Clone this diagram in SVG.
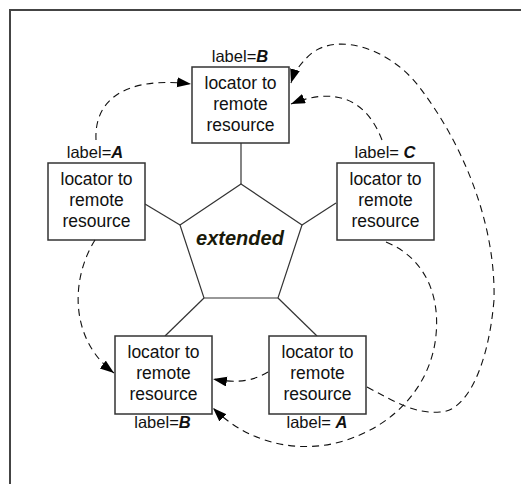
<svg xmlns="http://www.w3.org/2000/svg" width="521" height="484" viewBox="0 0 521 484">
<style>
.frame{fill:none;stroke:#444;stroke-width:2}
.box{fill:#fff;stroke:#333;stroke-width:1.5}
.spoke{fill:none;stroke:#333;stroke-width:1.2}
.t{font-family:"Liberation Sans",Arial,sans-serif;font-size:17.5px;fill:#111;text-anchor:middle}
.lbl{font-family:"Liberation Sans",Arial,sans-serif;font-size:16.5px;fill:#111;text-anchor:middle}
.bi{font-weight:bold;font-style:italic}
.ext{font-family:"Liberation Sans",Arial,sans-serif;font-size:20px;font-weight:bold;font-style:italic;fill:#1a1a0a;text-anchor:middle}
.dash{fill:none;stroke:#111;stroke-width:1.1;stroke-dasharray:7 5;marker-end:url(#ah)}
</style>
<defs>
<marker id="ah" markerUnits="userSpaceOnUse" markerWidth="15" markerHeight="11" refX="14" refY="5" orient="auto">
<path d="M0,0 L14,5 L0,10 Z" fill="#000"/>
</marker>
</defs>
<rect class="frame" x="10" y="10" width="600" height="600"/>

<g id="center">
<polygon class="spoke" points="241,184 302,225 278,298 204,298 180,225"/>
<text class="ext" x="240" y="245">extended</text>
</g>

<g id="spokes">
<line class="spoke" x1="241" y1="143" x2="241" y2="184"/>
<line class="spoke" x1="145" y1="204" x2="180" y2="225"/>
<line class="spoke" x1="336" y1="203" x2="302" y2="225"/>
<line class="spoke" x1="204" y1="298" x2="165" y2="336"/>
<line class="spoke" x1="278" y1="298" x2="317" y2="336"/>
</g>

<g id="node-top">
<rect class="box" x="192" y="67" width="97" height="76"/>
<text class="t" x="240.5" y="89">locator to</text>
<text class="t" x="240.5" y="110">remote</text>
<text class="t" x="240.5" y="131">resource</text>
<text class="lbl" x="240" y="62">label=<tspan class="bi">B</tspan></text>
</g>

<g id="node-left">
<rect class="box" x="48" y="163" width="97" height="77"/>
<text class="t" x="96.5" y="185">locator to</text>
<text class="t" x="96.5" y="206">remote</text>
<text class="t" x="96.5" y="227">resource</text>
<text class="lbl" x="95" y="158">label=<tspan class="bi">A</tspan></text>
</g>

<g id="node-right">
<rect class="box" x="337" y="163" width="97" height="77"/>
<text class="t" x="385.5" y="185">locator to</text>
<text class="t" x="385.5" y="206">remote</text>
<text class="t" x="385.5" y="227">resource</text>
<text class="lbl" x="385" y="158">label= <tspan class="bi">C</tspan></text>
</g>

<g id="node-bottom-left">
<rect class="box" x="115" y="336" width="97" height="78"/>
<text class="t" x="163.5" y="358">locator to</text>
<text class="t" x="163.5" y="379">remote</text>
<text class="t" x="163.5" y="400">resource</text>
<text class="lbl" x="162.5" y="428">label=<tspan class="bi">B</tspan></text>
</g>

<g id="node-bottom-right">
<rect class="box" x="269" y="336" width="97" height="78"/>
<text class="t" x="317.5" y="358">locator to</text>
<text class="t" x="317.5" y="379">remote</text>
<text class="t" x="317.5" y="400">resource</text>
<text class="lbl" x="317" y="428">label= <tspan class="bi">A</tspan></text>
</g>

<g id="connectors">
<path class="dash" d="M96,140 C94,100 125,76 191,84"/>
<path class="dash" d="M382,140 C365,95 330,88 291,104"/>
<path class="dash" d="M367,387 C395,402 415,414 440,412 C465,412 488,370 494,300 C496,220 460,140 420,88 C392,50 340,32 312,53 C300,63 294,73 291,83"/>
<path class="dash" d="M386,242 C425,258 440,295 436,335 C432,380 400,425 340,442 C300,453 250,445 213,408"/>
<path class="dash" d="M268,372 C255,380 240,384 213,379"/>
<path class="dash" d="M95,240 C70,280 70,340 114,373"/>
</g>
</svg>
